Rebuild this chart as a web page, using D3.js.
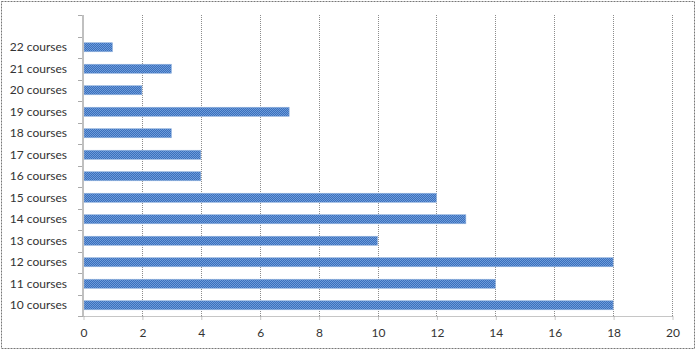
<!DOCTYPE html>
<html>
<head>
<meta charset="utf-8">
<script src="https://cdn.jsdelivr.net/npm/d3@7"></script>
<style>
  body { margin: 0; background: #fff; }
  svg { display: block; font-family: Lato, "Open Sans", sans-serif; }
</style>
</head>
<body>
<div id="chart"></div>
<script>
// categories, bottom to top as in the picture
const categories = ["10 courses", "11 courses", "12 courses", "13 courses", "14 courses",
  "15 courses", "16 courses", "17 courses", "18 courses", "19 courses",
  "20 courses", "21 courses", "22 courses"];
const counts = [18, 14, 18, 10, 13, 12, 4, 4, 3, 7, 2, 3, 1];
const xTicks = [0, 2, 4, 6, 8, 10, 12, 14, 16, 18, 20];

const width = 696, height = 351;
const margin = { top: 15, right: 24, bottom: 35, left: 83 };

const svg = d3.select('#chart').append('svg')
    .attr('width', width)
    .attr('height', height);

// checker fill for bars
const defs = svg.append('defs');
const pat = defs.append('pattern')
    .attr('id', 'checker')
    .attr('width', 2).attr('height', 2)
    .attr('patternUnits', 'userSpaceOnUse');
pat.append('rect').attr('width', 2).attr('height', 2).attr('fill', '#3a70bd');
pat.append('rect').attr('width', 1).attr('height', 1).attr('fill', '#6e9bd9');
pat.append('rect').attr('x', 1).attr('y', 1).attr('width', 1).attr('height', 1).attr('fill', '#6e9bd9');

// outer frame
svg.append('rect')
    .attr('x', 1.5).attr('y', 1.5)
    .attr('width', width - 3).attr('height', height - 4)
    .attr('fill', 'none')
    .attr('stroke', '#777')
    .attr('stroke-dasharray', '2,1');

const x = d3.scaleLinear()
    .domain([0, 20])
    .range([margin.left, width - margin.right]);

// 14 slots in the picture: one empty at the top
const slots = categories.concat(['']);
const y = d3.scaleBand()
    .domain(slots)
    .range([height - margin.bottom, margin.top])
    .paddingInner(0.58)
    .paddingOuter(0.29);

const plotTop = margin.top, plotBottom = height - margin.bottom;

// vertical gridlines
svg.append('g')
    .selectAll('line')
    .data(xTicks.slice(1))
    .join('line')
    .attr('x1', d => Math.round(x(d)) + 0.5)
    .attr('x2', d => Math.round(x(d)) + 0.5)
    .attr('y1', plotTop)
    .attr('y2', plotBottom)
    .attr('stroke', '#8c8c8c')
    .attr('stroke-dasharray', '1,1');

// bars
svg.append('g')
    .selectAll('rect')
    .data(categories)
    .join('rect')
    .attr('x', x(0) + 1)
    .attr('y', d => y(d))
    .attr('width', (d, i) => x(counts[i]) - x(0) - 1)
    .attr('height', y.bandwidth())
    .attr('fill', 'url(#checker)')
    .attr('stroke', '#8fb0dc')
    .attr('stroke-width', 0.6);

// bottom axis
const xAxis = d3.axisBottom(x)
    .tickValues(xTicks)
    .tickSize(4)
    .tickPadding(8);
const gx = svg.append('g')
    .attr('transform', `translate(0.5,${plotBottom + 0.5})`)
    .call(xAxis);
gx.select('.domain')
    .attr('stroke', '#8c8c8c')
    .attr('stroke-dasharray', '1,1')
    .attr('d', `M${x(0)},0H${x(20)}`);
gx.selectAll('.tick line').attr('stroke', '#8c8c8c').attr('stroke-dasharray', '1,1');
gx.selectAll('.tick text')
    .attr('font-size', 12)
    .attr('fill', '#333')
    .attr('font-family', 'Lato, "Open Sans", sans-serif');

// left axis: solid light line, ticks between categories
const yStep = y.step();
const boundaries = d3.range(slots.length + 1).map(i => plotBottom - i * (plotBottom - plotTop) / slots.length);
svg.append('g')
    .selectAll('line')
    .data(boundaries)
    .join('line')
    .attr('x1', x(0) - 5)
    .attr('x2', x(0))
    .attr('y1', d => Math.round(d) + 0.5)
    .attr('y2', d => Math.round(d) + 0.5)
    .attr('stroke', '#aaa');
svg.append('line')
    .attr('x1', x(0)).attr('x2', x(0))
    .attr('y1', plotTop).attr('y2', plotBottom)
    .attr('stroke', '#c0c0c0')
    .attr('stroke-width', 2);

// category labels
svg.append('g')
    .selectAll('text')
    .data(categories)
    .join('text')
    .attr('x', 67)
    .attr('y', d => y(d) + y.bandwidth() / 2)
    .attr('dy', '0.35em')
    .attr('text-anchor', 'end')
    .attr('font-size', 12)
    .attr('fill', '#333')
    .text(d => d);
</script>
</body>
</html>
